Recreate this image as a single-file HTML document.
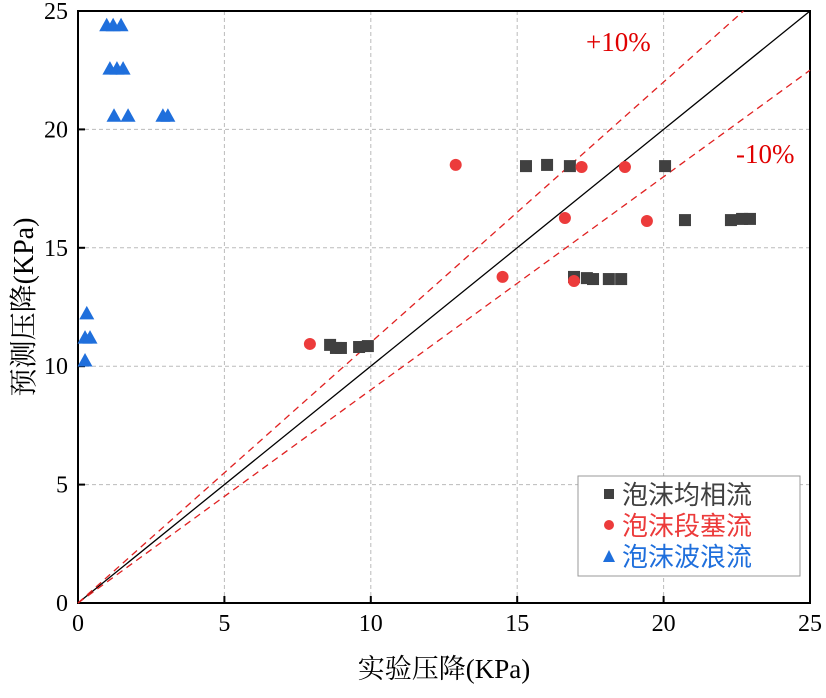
<!DOCTYPE html>
<html><head><meta charset="utf-8"><style>
body{margin:0;background:#fff}
svg text{font-family:"Liberation Serif","Noto Serif CJK SC",serif}
</style></head><body>
<svg id="c" width="826" height="693" xmlns="http://www.w3.org/2000/svg"></svg>
<script>
const xTicks=[0,5,10,15,20,25];
const yTicks=[0,5,10,15,20,25];
const sqX=[8.61,8.81,8.98,9.6,9.9,15.3,16.02,16.8,20.05,20.73,22.3,22.68,22.95,16.94,17.38,17.59,18.13,18.55];
const sqY=[10.9,10.77,10.77,10.81,10.85,18.45,18.5,18.45,18.45,16.17,16.17,16.22,16.22,13.77,13.72,13.68,13.68,13.68];
const ciX=[7.92,12.9,14.5,16.63,16.94,17.2,18.68,19.43];
const ciY=[10.94,18.5,13.77,16.26,13.6,18.41,18.41,16.13];
const trX=[0.98,1.2,1.47,1.09,1.33,1.54,1.23,1.71,2.9,3.07,0.3,0.24,0.41,0.24];
const trY=[24.42,24.42,24.42,22.59,22.59,22.59,20.6,20.6,20.6,20.6,12.25,11.23,11.23,10.26];
const L=78,R=810,T=11,B=603;
const sx=v=>L+v/25*(R-L), sy=v=>B-v/25*(B-T);
const s=document.getElementById('c');const NS='http://www.w3.org/2000/svg';
function mk(t,a,p){const e=document.createElementNS(NS,t);for(const k in a)e.setAttribute(k,a[k]);(p||s).appendChild(e);return e;}
xTicks.forEach((v,i)=>{
 if(v>0&&v<25){const g=mk('line',{x1:sx(v),x2:sx(v),y1:T,y2:B,stroke:'#bbb','stroke-dasharray':'4,3'});
 
 }
 const tk=mk('line',{x1:sx(v),x2:sx(v),y1:B,y2:B-7,stroke:'#000','stroke-width':2});
 
 
 const t=mk('text',{x:sx(v),y:B+28,'text-anchor':'middle','font-size':24});t.textContent=v;
 
 
});
yTicks.forEach(v=>{
 if(v>0&&v<25){const g=mk('line',{x1:L,x2:R,y1:sy(v),y2:sy(v),stroke:'#bbb','stroke-dasharray':'4,3'});
 
 }
 const tk=mk('line',{x1:L,x2:L+7,y1:sy(v),y2:sy(v),stroke:'#000','stroke-width':2});
 
 
 const t=mk('text',{x:L-10,y:sy(v)+8,'text-anchor':'end','font-size':24});t.textContent=v;
 
 
});
const fr=mk('rect',{x:L,y:T,width:R-L,height:B-T,fill:'none',stroke:'#000','stroke-width':2});


const ref=[[1,'#000','none','identity-line'],[1.1,'#e02020','7,5','plus-10-line'],[0.9,'#e02020','7,5','minus-10-line']];
ref.forEach(r=>{const x2=Math.min(25,25/r[0]);const l=mk('line',{x1:sx(0),y1:sy(0),x2:sx(x2),y2:sy(x2*r[0]),stroke:r[1],'stroke-width':1.3,'stroke-dasharray':r[2]});
 
 });
sqX.forEach((v,i)=>{const e=mk('rect',{x:sx(v)-6,y:sy(sqY[i])-6,width:12,height:12,fill:'#404040'});
 
 });
ciX.forEach((v,i)=>{const e=mk('circle',{cx:sx(v),cy:sy(ciY[i]),r:6,fill:'#ec3b3b'});
 
 });
trX.forEach((v,i)=>{const x=sx(v),y=sy(trY[i]);const e=mk('polygon',{points:`${x-7.5},${y+6.5} ${x+7.5},${y+6.5} ${x},${y-7}`,fill:'#1f6fdc'});
 
 });
const a1=mk('text',{x:586,y:51,'font-size':27,fill:'#e00000'});a1.textContent='+10%';


const a2=mk('text',{x:736,y:163,'font-size':27,fill:'#e00000'});a2.textContent='-10%';


const xl=mk('text',{x:444,y:678,'text-anchor':'middle','font-size':27});xl.textContent='实验压降(KPa)';


const yl=mk('text',{x:0,y:0,'text-anchor':'middle','font-size':28,transform:'translate(33,307) rotate(-90)'});yl.textContent='预测压降(KPa)';


const lg=mk('g',{});

mk('rect',{x:578,y:476,width:222,height:100,fill:'#fff',stroke:'#999'},lg);
const items=[['泡沫均相流','#404040','sq'],['泡沫段塞流','#ec3b3b','ci'],['泡沫波浪流','#1f6fdc','tr']];
items.forEach((it,i)=>{const y=494+i*31;const g=mk('g',{},lg);
 
 
 if(it[2]=='sq')mk('rect',{x:604,y:y-5,width:10,height:10,fill:it[1]},g);
 else if(it[2]=='ci')mk('circle',{cx:609,cy:y,r:5,fill:it[1]},g);
 else mk('polygon',{points:`${603},${y+6} ${615},${y+6} ${609},${y-6}`,fill:it[1]},g);
 const t=mk('text',{x:622,y:y+10,'font-size':26,fill:it[1],style:'font-family:"Noto Sans CJK SC",sans-serif'},g);t.textContent=it[0];});
</script>
</body></html>
